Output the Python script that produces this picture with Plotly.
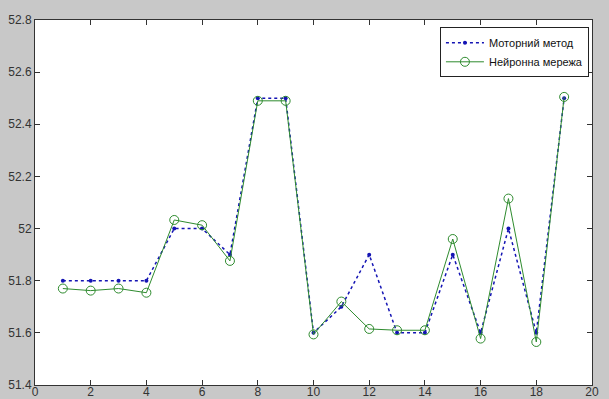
import plotly.graph_objects as go

# Experiment number
x_vals = list(range(1, 20))

# Motor method estimates
motor = [51.8, 51.8, 51.8, 51.8, 52.0, 52.0, 51.9, 52.5, 52.5, 51.6,
         51.7, 51.9, 51.6, 51.6, 51.9, 51.6, 52.0, 51.6, 52.5]

# Neural network estimates
neural = [51.77, 51.762, 51.77, 51.754, 52.033, 52.013, 51.876, 52.49, 52.49, 51.594,
          51.72, 51.615, 51.61, 51.61, 51.96, 51.578, 52.115, 51.565, 52.505]

x_ticks = [0, 2, 4, 6, 8, 10, 12, 14, 16, 18, 20]
y_ticks = [51.4, 51.6, 51.8, 52.0, 52.2, 52.4, 52.6, 52.8]
y_tick_text = ["51.4", "51.6", "51.8", "52", "52.2", "52.4", "52.6", "52.8"]

fig = go.Figure()
fig.add_trace(go.Scatter(
    x=x_vals, y=motor, name="Моторний метод",
    mode="lines+markers",
    line=dict(color="#1414b4", width=1.5, dash="dot"),
    marker=dict(color="#1414b4", size=4, symbol="circle"),
))
fig.add_trace(go.Scatter(
    x=x_vals, y=neural, name="Нейронна мережа",
    mode="lines+markers",
    line=dict(color="#2e8b2e", width=1),
    marker=dict(color="#2e8b2e", size=9, symbol="circle-open",
                line=dict(color="#2e8b2e", width=1)),
))

axis_common = dict(
    showgrid=False, zeroline=False, showline=True, linecolor="#333333", linewidth=1,
    mirror="allticks", ticks="inside", ticklen=5, tickcolor="#333333",
    automargin=False,
    tickfont=dict(family="Arial, Liberation Sans", size=12, color="#333333"),
)

fig.update_xaxes(range=[0, 20], tickvals=x_ticks, ticklabelstandoff=-4, **axis_common)
fig.update_yaxes(range=[51.4, 52.8], tickvals=y_ticks, ticktext=y_tick_text, **axis_common)

fig.update_layout(
    width=609, height=399,
    margin=dict(l=35, r=17, t=20, b=14, autoexpand=False),
    paper_bgcolor="#c8c8c8",
    plot_bgcolor="white",
    showlegend=True,
    legend=dict(
        x=0.9945, y=0.98, xanchor="right", yanchor="top",
        bgcolor="white", bordercolor="#222222", borderwidth=1,
        font=dict(family="Arial, Liberation Sans", size=11, color="#111111"),
        tracegroupgap=0, itemwidth=38,
    ),
)

fig.write_html("out.html")
